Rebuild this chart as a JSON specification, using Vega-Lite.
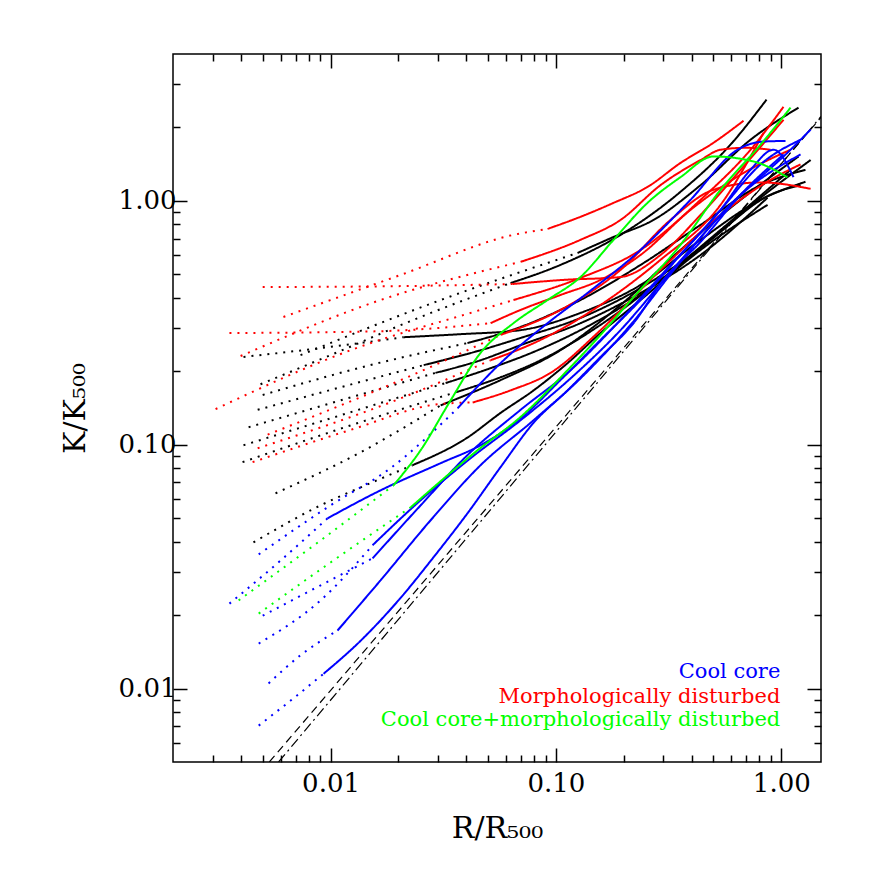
{
 "$schema": "https://vega.github.io/schema/vega-lite/v6.json",
 "width": 648, "height": 708,
 "autosize": {"type": "none"},
 "padding": {"left": 173, "top": 54, "right": 51, "bottom": 110},
 "background": "white",
 "config": {
  "view": {"stroke": "black", "strokeWidth": 1.5},
  "axis": {"domain": false, "grid": false, "tickColor": "black", "tickWidth": 1.5, "labelFont": "DejaVu Serif", "labelFontSize": 26, "labelColor": "black", "labelOverlap": false, "labelFlush": false, "titleFont": "DejaVu Serif", "titleFontSize": 30, "titleFontWeight": "normal", "titleColor": "black"}
 },
 "datasets": {
  "baselines": [
   {"name": "K=1.42R^1.08", "R": 0.00535, "K": 0.005}, {"name": "K=1.42R^1.08", "R": 1.5, "K": 2.20},
   {"name": "K=1.42R^1.1", "R": 0.00588, "K": 0.005}, {"name": "K=1.42R^1.1", "R": 1.5, "K": 2.218}
  ],
  "labels": [
   {"label": "Cool core", "class": "CC", "R": 0.99, "K": 0.0111},
   {"label": "Morphologically disturbed", "class": "MD", "R": 0.99, "K": 0.00876},
   {"label": "Cool core+morphologically disturbed", "class": "CCMD", "R": 0.99, "K": 0.00705}
  ],
  "profiles": [
   {"profile":"B1","class":"Other","region":"inner","R":0.00411,"K":0.229},
   {"profile":"B1","class":"Other","region":"inner","R":0.00903,"K":0.249},
   {"profile":"B1","class":"Other","region":"inner","R":0.0211,"K":0.276},
   {"profile":"B1","class":"Other","region":"outer","R":0.0211,"K":0.276},
   {"profile":"B1","class":"Other","region":"outer","R":0.0378,"K":0.284},
   {"profile":"B1","class":"Other","region":"outer","R":0.0697,"K":0.295},
   {"profile":"B1","class":"Other","region":"outer","R":0.1285,"K":0.347},
   {"profile":"B1","class":"Other","region":"outer","R":0.2374,"K":0.452},
   {"profile":"B1","class":"Other","region":"outer","R":0.4384,"K":0.692},
   {"profile":"B1","class":"Other","region":"outer","R":0.809,"K":1.01},
   {"profile":"B1","class":"Other","region":"outer","R":1.28,"K":1.197},
   {"profile":"B2","class":"Other","region":"inner","R":0.00489,"K":0.177},
   {"profile":"B2","class":"Other","region":"inner","R":0.01,"K":0.233},
   {"profile":"B2","class":"Other","region":"inner","R":0.0251,"K":0.334},
   {"profile":"B2","class":"Other","region":"inner","R":0.0629,"K":0.46},
   {"profile":"B2","class":"Other","region":"outer","R":0.0629,"K":0.46},
   {"profile":"B2","class":"Other","region":"outer","R":0.1047,"K":0.546},
   {"profile":"B2","class":"Other","region":"outer","R":0.1935,"K":0.725},
   {"profile":"B2","class":"Other","region":"outer","R":0.357,"K":1.089},
   {"profile":"B2","class":"Other","region":"outer","R":0.595,"K":1.70},
   {"profile":"B2","class":"Other","region":"outer","R":0.86,"K":2.60},
   {"profile":"B3","class":"Other","region":"inner","R":0.00475,"K":0.139},
   {"profile":"B3","class":"Other","region":"inner","R":0.01107,"K":0.172},
   {"profile":"B3","class":"Other","region":"inner","R":0.0259,"K":0.212},
   {"profile":"B3","class":"Other","region":"outer","R":0.0259,"K":0.212},
   {"profile":"B3","class":"Other","region":"outer","R":0.0463,"K":0.244},
   {"profile":"B3","class":"Other","region":"outer","R":0.0697,"K":0.274},
   {"profile":"B3","class":"Other","region":"outer","R":0.1285,"K":0.331},
   {"profile":"B3","class":"Other","region":"outer","R":0.2374,"K":0.439},
   {"profile":"B3","class":"Other","region":"outer","R":0.4384,"K":0.641},
   {"profile":"B3","class":"Other","region":"outer","R":0.809,"K":1.03},
   {"profile":"B3","class":"Other","region":"outer","R":1.349,"K":1.47},
   {"profile":"B4","class":"Other","region":"inner","R":0.00433,"K":0.118},
   {"profile":"B4","class":"Other","region":"inner","R":0.01107,"K":0.152},
   {"profile":"B4","class":"Other","region":"inner","R":0.0292,"K":0.197},
   {"profile":"B4","class":"Other","region":"outer","R":0.0292,"K":0.197},
   {"profile":"B4","class":"Other","region":"outer","R":0.0463,"K":0.222},
   {"profile":"B4","class":"Other","region":"outer","R":0.0697,"K":0.256},
   {"profile":"B4","class":"Other","region":"outer","R":0.1285,"K":0.315},
   {"profile":"B4","class":"Other","region":"outer","R":0.2374,"K":0.419},
   {"profile":"B4","class":"Other","region":"outer","R":0.4384,"K":0.6},
   {"profile":"B4","class":"Other","region":"outer","R":0.869,"K":1.03},
   {"profile":"B5","class":"Other","region":"inner","R":0.00411,"K":0.0995},
   {"profile":"B5","class":"Other","region":"inner","R":0.01107,"K":0.132},
   {"profile":"B5","class":"Other","region":"inner","R":0.0324,"K":0.179},
   {"profile":"B5","class":"Other","region":"outer","R":0.0324,"K":0.179},
   {"profile":"B5","class":"Other","region":"outer","R":0.0513,"K":0.206},
   {"profile":"B5","class":"Other","region":"outer","R":0.0796,"K":0.24},
   {"profile":"B5","class":"Other","region":"outer","R":0.1423,"K":0.31},
   {"profile":"B5","class":"Other","region":"outer","R":0.263,"K":0.439},
   {"profile":"B5","class":"Other","region":"outer","R":0.4853,"K":0.692},
   {"profile":"B5","class":"Other","region":"outer","R":0.896,"K":1.06},
   {"profile":"B5","class":"Other","region":"outer","R":1.217,"K":1.16},
   {"profile":"B6","class":"Other","region":"inner","R":0.00407,"K":0.0848},
   {"profile":"B6","class":"Other","region":"inner","R":0.01227,"K":0.12},
   {"profile":"B6","class":"Other","region":"inner","R":0.0359,"K":0.164},
   {"profile":"B6","class":"Other","region":"outer","R":0.0359,"K":0.164},
   {"profile":"B6","class":"Other","region":"outer","R":0.0568,"K":0.189},
   {"profile":"B6","class":"Other","region":"outer","R":0.0855,"K":0.222},
   {"profile":"B6","class":"Other","region":"outer","R":0.1577,"K":0.31},
   {"profile":"B6","class":"Other","region":"outer","R":0.2912,"K":0.474},
   {"profile":"B6","class":"Other","region":"outer","R":0.5377,"K":0.76},
   {"profile":"B6","class":"Other","region":"outer","R":1.099,"K":1.34},
   {"profile":"B7","class":"Other","region":"inner","R":0.00455,"K":0.0398},
   {"profile":"B7","class":"Other","region":"inner","R":0.00903,"K":0.0564},
   {"profile":"B7","class":"Other","region":"inner","R":0.015,"K":0.0695},
   {"profile":"B7","class":"Other","region":"inner","R":0.0231,"K":0.0824},
   {"profile":"B7","class":"Other","region":"outer","R":0.0231,"K":0.0824},
   {"profile":"B7","class":"Other","region":"outer","R":0.0405,"K":0.107},
   {"profile":"B7","class":"Other","region":"outer","R":0.0568,"K":0.135},
   {"profile":"B7","class":"Other","region":"outer","R":0.0796,"K":0.167},
   {"profile":"B7","class":"Other","region":"outer","R":0.1126,"K":0.216},
   {"profile":"B7","class":"Other","region":"outer","R":0.1577,"K":0.287},
   {"profile":"B7","class":"Other","region":"outer","R":0.2374,"K":0.392},
   {"profile":"B7","class":"Other","region":"outer","R":0.4384,"K":0.629},
   {"profile":"B7","class":"Other","region":"outer","R":0.869,"K":0.963},
   {"profile":"B8","class":"Other","region":"inner","R":0.0057,"K":0.0632},
   {"profile":"B8","class":"Other","region":"inner","R":0.01359,"K":0.0931},
   {"profile":"B8","class":"Other","region":"inner","R":0.0308,"K":0.145},
   {"profile":"B8","class":"Other","region":"outer","R":0.0308,"K":0.145},
   {"profile":"B8","class":"Other","region":"outer","R":0.0568,"K":0.184},
   {"profile":"B8","class":"Other","region":"outer","R":0.1047,"K":0.244},
   {"profile":"B8","class":"Other","region":"outer","R":0.1935,"K":0.374},
   {"profile":"B8","class":"Other","region":"outer","R":0.357,"K":0.629},
   {"profile":"B8","class":"Other","region":"outer","R":0.66,"K":1.01},
   {"profile":"B8","class":"Other","region":"outer","R":1.192,"K":1.52},
   {"profile":"B9","class":"Other","region":"inner","R":0.005,"K":0.16},
   {"profile":"B9","class":"Other","region":"inner","R":0.015,"K":0.212},
   {"profile":"B9","class":"Other","region":"inner","R":0.0405,"K":0.261},
   {"profile":"B9","class":"Other","region":"outer","R":0.0405,"K":0.261},
   {"profile":"B9","class":"Other","region":"outer","R":0.0697,"K":0.304},
   {"profile":"B9","class":"Other","region":"outer","R":0.1285,"K":0.392},
   {"profile":"B9","class":"Other","region":"outer","R":0.2374,"K":0.546},
   {"profile":"B9","class":"Other","region":"outer","R":0.4384,"K":0.797},
   {"profile":"B9","class":"Other","region":"outer","R":0.809,"K":1.16},
   {"profile":"B9","class":"Other","region":"outer","R":1.28,"K":1.34},
   {"profile":"B10","class":"Other","region":"inner","R":0.00736,"K":0.233},
   {"profile":"B10","class":"Other","region":"inner","R":0.0308,"K":0.392},
   {"profile":"B10","class":"Other","region":"inner","R":0.1247,"K":0.611},
   {"profile":"B10","class":"Other","region":"outer","R":0.1247,"K":0.611},
   {"profile":"B10","class":"Other","region":"outer","R":0.1802,"K":0.711},
   {"profile":"B10","class":"Other","region":"outer","R":0.271,"K":0.835},
   {"profile":"B10","class":"Other","region":"outer","R":0.4384,"K":1.16},
   {"profile":"B10","class":"Other","region":"outer","R":0.73,"K":1.78},
   {"profile":"B10","class":"Other","region":"outer","R":1.192,"K":2.41},

   {"profile":"R1","class":"MD","region":"inner","R":0.00618,"K":0.334},
   {"profile":"R1","class":"MD","region":"inner","R":0.0205,"K":0.497},
   {"profile":"R1","class":"MD","region":"inner","R":0.0648,"K":0.725},
   {"profile":"R1","class":"MD","region":"inner","R":0.0918,"K":0.767},
   {"profile":"R1","class":"MD","region":"outer","R":0.0918,"K":0.767},
   {"profile":"R1","class":"MD","region":"outer","R":0.1285,"K":0.86},
   {"profile":"R1","class":"MD","region":"outer","R":0.1802,"K":0.981},
   {"profile":"R1","class":"MD","region":"outer","R":0.2549,"K":1.14},
   {"profile":"R1","class":"MD","region":"outer","R":0.357,"K":1.43},
   {"profile":"R1","class":"MD","region":"outer","R":0.5,"K":1.73},
   {"profile":"R1","class":"MD","region":"outer","R":0.68,"K":2.13},
   {"profile":"R2","class":"MD","region":"inner","R":0.005,"K":0.443},
   {"profile":"R2","class":"MD","region":"inner","R":0.0205,"K":0.447},
   {"profile":"R2","class":"MD","region":"inner","R":0.0642,"K":0.456},
   {"profile":"R2","class":"MD","region":"outer","R":0.0642,"K":0.456},
   {"profile":"R2","class":"MD","region":"outer","R":0.108,"K":0.474},
   {"profile":"R2","class":"MD","region":"outer","R":0.1935,"K":0.487},
   {"profile":"R2","class":"MD","region":"outer","R":0.2912,"K":0.6},
   {"profile":"R2","class":"MD","region":"outer","R":0.4384,"K":0.876},
   {"profile":"R2","class":"MD","region":"outer","R":0.66,"K":1.34},
   {"profile":"R2","class":"MD","region":"outer","R":1.023,"K":2.15},
   {"profile":"R3","class":"MD","region":"inner","R":0.00356,"K":0.287},
   {"profile":"R3","class":"MD","region":"inner","R":0.01667,"K":0.292},
   {"profile":"R3","class":"MD","region":"inner","R":0.0513,"K":0.315},
   {"profile":"R3","class":"MD","region":"outer","R":0.0513,"K":0.315},
   {"profile":"R3","class":"MD","region":"outer","R":0.0697,"K":0.357},
   {"profile":"R3","class":"MD","region":"outer","R":0.1047,"K":0.411},
   {"profile":"R3","class":"MD","region":"outer","R":0.1577,"K":0.474},
   {"profile":"R3","class":"MD","region":"outer","R":0.2374,"K":0.6},
   {"profile":"R3","class":"MD","region":"outer","R":0.3956,"K":0.918},
   {"profile":"R3","class":"MD","region":"outer","R":0.66,"K":1.28},
   {"profile":"R3","class":"MD","region":"outer","R":1.099,"K":1.62},
   {"profile":"R4","class":"MD","region":"inner","R":0.00399,"K":0.231},
   {"profile":"R4","class":"MD","region":"inner","R":0.01667,"K":0.392},
   {"profile":"R4","class":"MD","region":"inner","R":0.0697,"K":0.562},
   {"profile":"R4","class":"MD","region":"outer","R":0.0697,"K":0.562},
   {"profile":"R4","class":"MD","region":"outer","R":0.1285,"K":0.692},
   {"profile":"R4","class":"MD","region":"outer","R":0.1935,"K":0.835},
   {"profile":"R4","class":"MD","region":"outer","R":0.2912,"K":1.16},
   {"profile":"R4","class":"MD","region":"outer","R":0.4384,"K":1.47},
   {"profile":"R4","class":"MD","region":"outer","R":0.5377,"K":1.62},
   {"profile":"R4","class":"MD","region":"outer","R":0.694,"K":1.65},
   {"profile":"R4","class":"MD","region":"outer","R":0.896,"K":1.62},
   {"profile":"R5","class":"MD","region":"inner","R":0.00309,"K":0.14},
   {"profile":"R5","class":"MD","region":"inner","R":0.01227,"K":0.244},
   {"profile":"R5","class":"MD","region":"inner","R":0.0463,"K":0.357},
   {"profile":"R5","class":"MD","region":"inner","R":0.0648,"K":0.392},
   {"profile":"R5","class":"MD","region":"outer","R":0.0648,"K":0.392},
   {"profile":"R5","class":"MD","region":"outer","R":0.1285,"K":0.483},
   {"profile":"R5","class":"MD","region":"outer","R":0.2374,"K":0.629},
   {"profile":"R5","class":"MD","region":"outer","R":0.4384,"K":1.01},
   {"profile":"R5","class":"MD","region":"outer","R":0.73,"K":1.62},
   {"profile":"R5","class":"MD","region":"outer","R":1.023,"K":2.43},
   {"profile":"R6","class":"MD","region":"inner","R":0.00451,"K":0.0848},
   {"profile":"R6","class":"MD","region":"inner","R":0.01227,"K":0.115},
   {"profile":"R6","class":"MD","region":"inner","R":0.0308,"K":0.147},
   {"profile":"R6","class":"MD","region":"inner","R":0.0427,"K":0.149},
   {"profile":"R6","class":"MD","region":"outer","R":0.0427,"K":0.149},
   {"profile":"R6","class":"MD","region":"outer","R":0.0629,"K":0.167},
   {"profile":"R6","class":"MD","region":"outer","R":0.0946,"K":0.197},
   {"profile":"R6","class":"MD","region":"outer","R":0.1577,"K":0.295},
   {"profile":"R6","class":"MD","region":"outer","R":0.2912,"K":0.521},
   {"profile":"R6","class":"MD","region":"outer","R":0.5377,"K":0.876},
   {"profile":"R6","class":"MD","region":"outer","R":0.896,"K":1.22},
   {"profile":"R6","class":"MD","region":"outer","R":1.217,"K":1.41},
   {"profile":"R7","class":"MD","region":"inner","R":0.00475,"K":0.0967},
   {"profile":"R7","class":"MD","region":"inner","R":0.0205,"K":0.155},
   {"profile":"R7","class":"MD","region":"inner","R":0.0513,"K":0.222},
   {"profile":"R7","class":"MD","region":"outer","R":0.0513,"K":0.222},
   {"profile":"R7","class":"MD","region":"outer","R":0.0855,"K":0.269},
   {"profile":"R7","class":"MD","region":"outer","R":0.1577,"K":0.374},
   {"profile":"R7","class":"MD","region":"outer","R":0.2912,"K":0.573},
   {"profile":"R7","class":"MD","region":"outer","R":0.5377,"K":0.963},
   {"profile":"R7","class":"MD","region":"outer","R":0.834,"K":1.9},
   {"profile":"R8","class":"MD","region":"inner","R":0.00526,"K":0.11},
   {"profile":"R8","class":"MD","region":"inner","R":0.0205,"K":0.184},
   {"profile":"R8","class":"MD","region":"inner","R":0.0568,"K":0.282},
   {"profile":"R8","class":"MD","region":"outer","R":0.0568,"K":0.282},
   {"profile":"R8","class":"MD","region":"outer","R":0.1047,"K":0.357},
   {"profile":"R8","class":"MD","region":"outer","R":0.1935,"K":0.521},
   {"profile":"R8","class":"MD","region":"outer","R":0.3224,"K":0.835},
   {"profile":"R8","class":"MD","region":"outer","R":0.5,"K":1.11},
   {"profile":"R8","class":"MD","region":"outer","R":0.809,"K":1.19},
   {"profile":"R8","class":"MD","region":"outer","R":1.349,"K":1.12},

   {"profile":"C1","class":"CC","region":"inner","R":0.00356,"K":0.0223},
   {"profile":"C1","class":"CC","region":"inner","R":0.006,"K":0.0335},
   {"profile":"C1","class":"CC","region":"inner","R":0.0097,"K":0.0499},
   {"profile":"C1","class":"CC","region":"outer","R":0.0097,"K":0.0499},
   {"profile":"C1","class":"CC","region":"outer","R":0.01667,"K":0.065},
   {"profile":"C1","class":"CC","region":"outer","R":0.0308,"K":0.084},
   {"profile":"C1","class":"CC","region":"outer","R":0.0463,"K":0.0995},
   {"profile":"C1","class":"CC","region":"outer","R":0.0697,"K":0.128},
   {"profile":"C1","class":"CC","region":"outer","R":0.1047,"K":0.184},
   {"profile":"C1","class":"CC","region":"outer","R":0.1577,"K":0.269},
   {"profile":"C1","class":"CC","region":"outer","R":0.2374,"K":0.392},
   {"profile":"C1","class":"CC","region":"outer","R":0.357,"K":0.6},
   {"profile":"C1","class":"CC","region":"outer","R":0.5377,"K":0.918},
   {"profile":"C1","class":"CC","region":"outer","R":0.809,"K":1.41},
   {"profile":"C1","class":"CC","region":"outer","R":1.217,"K":1.78},
   {"profile":"C2","class":"CC","region":"inner","R":0.0048,"K":0.0355},
   {"profile":"C2","class":"CC","region":"inner","R":0.01,"K":0.0564},
   {"profile":"C2","class":"CC","region":"inner","R":0.01845,"K":0.0801},
   {"profile":"C2","class":"CC","region":"inner","R":0.0366,"K":0.141},
   {"profile":"C2","class":"CC","region":"outer","R":0.0366,"K":0.141},
   {"profile":"C2","class":"CC","region":"outer","R":0.0568,"K":0.216},
   {"profile":"C2","class":"CC","region":"outer","R":0.0918,"K":0.315},
   {"profile":"C2","class":"CC","region":"outer","R":0.1381,"K":0.419},
   {"profile":"C2","class":"CC","region":"outer","R":0.2374,"K":0.629},
   {"profile":"C2","class":"CC","region":"outer","R":0.3956,"K":1.01},
   {"profile":"C2","class":"CC","region":"outer","R":0.639,"K":1.62},
   {"profile":"C2","class":"CC","region":"outer","R":0.834,"K":1.75},
   {"profile":"C2","class":"CC","region":"outer","R":1.044,"K":1.76},
   {"profile":"C3","class":"CC","region":"inner","R":0.005,"K":0.0199},
   {"profile":"C3","class":"CC","region":"inner","R":0.00903,"K":0.0265},
   {"profile":"C3","class":"CC","region":"inner","R":0.01536,"K":0.0342},
   {"profile":"C3","class":"CC","region":"outer","R":0.01536,"K":0.0342},
   {"profile":"C3","class":"CC","region":"outer","R":0.0251,"K":0.0564},
   {"profile":"C3","class":"CC","region":"outer","R":0.0405,"K":0.0906},
   {"profile":"C3","class":"CC","region":"outer","R":0.0697,"K":0.139},
   {"profile":"C3","class":"CC","region":"outer","R":0.1161,"K":0.202},
   {"profile":"C3","class":"CC","region":"outer","R":0.1935,"K":0.325},
   {"profile":"C3","class":"CC","region":"outer","R":0.3224,"K":0.546},
   {"profile":"C3","class":"CC","region":"outer","R":0.5377,"K":0.918},
   {"profile":"C3","class":"CC","region":"outer","R":0.73,"K":1.34},
   {"profile":"C3","class":"CC","region":"outer","R":0.9235,"K":1.62},
   {"profile":"C3","class":"CC","region":"outer","R":1.133,"K":1.25},
   {"profile":"C4","class":"CC","region":"inner","R":0.0048,"K":0.0153},
   {"profile":"C4","class":"CC","region":"inner","R":0.00903,"K":0.023},
   {"profile":"C4","class":"CC","region":"inner","R":0.01536,"K":0.0387},
   {"profile":"C4","class":"CC","region":"outer","R":0.01536,"K":0.0387},
   {"profile":"C4","class":"CC","region":"outer","R":0.0251,"K":0.0592},
   {"profile":"C4","class":"CC","region":"outer","R":0.0418,"K":0.088},
   {"profile":"C4","class":"CC","region":"outer","R":0.0697,"K":0.126},
   {"profile":"C4","class":"CC","region":"outer","R":0.1161,"K":0.187},
   {"profile":"C4","class":"CC","region":"outer","R":0.1935,"K":0.295},
   {"profile":"C4","class":"CC","region":"outer","R":0.3224,"K":0.511},
   {"profile":"C4","class":"CC","region":"outer","R":0.5953,"K":0.963},
   {"profile":"C4","class":"CC","region":"outer","R":1.099,"K":1.62},
   {"profile":"C4","class":"CC","region":"outer","R":1.349,"K":1.96},
   {"profile":"C5","class":"CC","region":"inner","R":0.00531,"K":0.0105},
   {"profile":"C5","class":"CC","region":"inner","R":0.00736,"K":0.0137},
   {"profile":"C5","class":"CC","region":"inner","R":0.01074,"K":0.0173},
   {"profile":"C5","class":"CC","region":"outer","R":0.01074,"K":0.0173},
   {"profile":"C5","class":"CC","region":"outer","R":0.01667,"K":0.0278},
   {"profile":"C5","class":"CC","region":"outer","R":0.0278,"K":0.049},
   {"profile":"C5","class":"CC","region":"outer","R":0.0463,"K":0.0824},
   {"profile":"C5","class":"CC","region":"outer","R":0.0796,"K":0.126},
   {"profile":"C5","class":"CC","region":"outer","R":0.1285,"K":0.187},
   {"profile":"C5","class":"CC","region":"outer","R":0.2143,"K":0.31},
   {"profile":"C5","class":"CC","region":"outer","R":0.357,"K":0.562},
   {"profile":"C5","class":"CC","region":"outer","R":0.66,"K":1.06},
   {"profile":"C5","class":"CC","region":"outer","R":1.217,"K":1.55},
   {"profile":"C6","class":"CC","region":"inner","R":0.0048,"K":0.00705},
   {"profile":"C6","class":"CC","region":"inner","R":0.00665,"K":0.00893},
   {"profile":"C6","class":"CC","region":"inner","R":0.00931,"K":0.0115},
   {"profile":"C6","class":"CC","region":"outer","R":0.00931,"K":0.0115},
   {"profile":"C6","class":"CC","region":"outer","R":0.01359,"K":0.0157},
   {"profile":"C6","class":"CC","region":"outer","R":0.0205,"K":0.0236},
   {"profile":"C6","class":"CC","region":"outer","R":0.0286,"K":0.0345},
   {"profile":"C6","class":"CC","region":"outer","R":0.0405,"K":0.0523},
   {"profile":"C6","class":"CC","region":"outer","R":0.0568,"K":0.0809},
   {"profile":"C6","class":"CC","region":"outer","R":0.0796,"K":0.123},
   {"profile":"C6","class":"CC","region":"outer","R":0.1126,"K":0.167},
   {"profile":"C6","class":"CC","region":"outer","R":0.1577,"K":0.229},
   {"profile":"C6","class":"CC","region":"outer","R":0.221,"K":0.315},
   {"profile":"C6","class":"CC","region":"outer","R":0.3,"K":0.474},
   {"profile":"C6","class":"CC","region":"outer","R":0.4384,"K":0.679},
   {"profile":"C6","class":"CC","region":"outer","R":0.66,"K":1.06},
   {"profile":"C6","class":"CC","region":"outer","R":1.023,"K":1.55},

   {"profile":"G1","class":"CCMD","region":"inner","R":0.00391,"K":0.023},
   {"profile":"G1","class":"CCMD","region":"inner","R":0.00903,"K":0.0405},
   {"profile":"G1","class":"CCMD","region":"inner","R":0.01905,"K":0.0682},
   {"profile":"G1","class":"CCMD","region":"outer","R":0.01905,"K":0.0682},
   {"profile":"G1","class":"CCMD","region":"outer","R":0.0251,"K":0.0949},
   {"profile":"G1","class":"CCMD","region":"outer","R":0.0341,"K":0.152},
   {"profile":"G1","class":"CCMD","region":"outer","R":0.0463,"K":0.238},
   {"profile":"G1","class":"CCMD","region":"outer","R":0.0648,"K":0.315},
   {"profile":"G1","class":"CCMD","region":"outer","R":0.0918,"K":0.392},
   {"profile":"G1","class":"CCMD","region":"outer","R":0.1285,"K":0.487},
   {"profile":"G1","class":"CCMD","region":"outer","R":0.1802,"K":0.692},
   {"profile":"G1","class":"CCMD","region":"outer","R":0.2549,"K":0.981},
   {"profile":"G1","class":"CCMD","region":"outer","R":0.357,"K":1.25},
   {"profile":"G1","class":"CCMD","region":"outer","R":0.5,"K":1.52},
   {"profile":"G1","class":"CCMD","region":"outer","R":0.753,"K":1.45},
   {"profile":"G1","class":"CCMD","region":"outer","R":1.065,"K":1.25},
   {"profile":"G2","class":"CCMD","region":"inner","R":0.0048,"K":0.0203},
   {"profile":"G2","class":"CCMD","region":"inner","R":0.01,"K":0.0329},
   {"profile":"G2","class":"CCMD","region":"inner","R":0.0227,"K":0.0554},
   {"profile":"G2","class":"CCMD","region":"outer","R":0.0227,"K":0.0554},
   {"profile":"G2","class":"CCMD","region":"outer","R":0.0449,"K":0.0949},
   {"profile":"G2","class":"CCMD","region":"outer","R":0.0697,"K":0.13},
   {"profile":"G2","class":"CCMD","region":"outer","R":0.1126,"K":0.202},
   {"profile":"G2","class":"CCMD","region":"outer","R":0.1577,"K":0.282},
   {"profile":"G2","class":"CCMD","region":"outer","R":0.221,"K":0.403},
   {"profile":"G2","class":"CCMD","region":"outer","R":0.357,"K":0.66},
   {"profile":"G2","class":"CCMD","region":"outer","R":0.5377,"K":1.11},
   {"profile":"G2","class":"CCMD","region":"outer","R":0.809,"K":1.7},
   {"profile":"G2","class":"CCMD","region":"outer","R":1.099,"K":2.41}
  ]
 },
 "layer": [
  {
   "data": {"name": "baselines"},
   "mark": {"type": "line", "color": "black", "strokeWidth": 1.2, "clip": true},
   "encoding": {
    "x": {"field": "R", "type": "quantitative", "scale": {"type": "log", "domain": [0.002, 1.5]}, "axis": null},
    "y": {"field": "K", "type": "quantitative", "scale": {"type": "log", "domain": [0.005, 4]}, "axis": null},
    "strokeDash": {"field": "name", "type": "nominal", "scale": {"domain": ["K=1.42R^1.08", "K=1.42R^1.1"], "range": [[8, 5], [10, 4, 2, 4]]}, "legend": null}
   }
  },
  {
   "data": {"name": "profiles"},
   "mark": {"type": "line", "strokeWidth": 2, "clip": true, "interpolate": "monotone"},
   "encoding": {
    "x": {"field": "R", "type": "quantitative", "scale": {"type": "log", "domain": [0.002, 1.5]},
     "axis": {"orient": "bottom", "values": [0.003,0.004,0.005,0.006,0.007,0.008,0.009,0.01,0.02,0.03,0.04,0.05,0.06,0.07,0.08,0.09,0.1,0.2,0.3,0.4,0.5,0.6,0.7,0.8,0.9,1],
      "labelExpr": "datum.value == 1 ? '1.00' : datum.value == 0.1 ? '0.10' : datum.value == 0.01 ? '0.01' : ''",
      "tickSize": {"condition": {"test": "datum.value == 0.01 || datum.value == 0.1 || datum.value == 1", "value": -14}, "value": -7},
      "labelPadding": 22, "title": "R/R₅₀₀", "titlePadding": 10}},
    "y": {"field": "K", "type": "quantitative", "scale": {"type": "log", "domain": [0.005, 4]},
     "axis": {"orient": "left", "values": [0.006,0.007,0.008,0.009,0.01,0.02,0.03,0.04,0.05,0.06,0.07,0.08,0.09,0.1,0.2,0.3,0.4,0.5,0.6,0.7,0.8,0.9,1,2,3],
      "labelExpr": "datum.value == 1 ? '1.00' : datum.value == 0.1 ? '0.10' : datum.value == 0.01 ? '0.01' : ''",
      "tickSize": {"condition": {"test": "datum.value == 0.01 || datum.value == 0.1 || datum.value == 1", "value": -14}, "value": -7},
      "labelPadding": 11, "title": "K/K₅₀₀", "titlePadding": 28}},
    "color": {"field": "class", "type": "nominal", "scale": {"domain": ["Other", "MD", "CC", "CCMD"], "range": ["#000000", "#ff0000", "#0000ff", "#00ff00"]}, "legend": null},
    "strokeDash": {"field": "region", "type": "nominal", "scale": {"domain": ["inner", "outer"], "range": [[2, 6], [1, 0]]}, "legend": null},
    "detail": [{"field": "profile"}, {"field": "region"}]
   }
  },
  {
   "data": {"name": "labels"},
   "mark": {"type": "text", "align": "right", "baseline": "alphabetic", "font": "DejaVu Serif", "fontSize": 21},
   "encoding": {
    "x": {"field": "R", "type": "quantitative", "scale": {"type": "log", "domain": [0.002, 1.5]},
     "axis": {"orient": "top", "values": [0.003,0.004,0.005,0.006,0.007,0.008,0.009,0.01,0.02,0.03,0.04,0.05,0.06,0.07,0.08,0.09,0.1,0.2,0.3,0.4,0.5,0.6,0.7,0.8,0.9,1], "labels": false, "title": null,
      "tickSize": {"condition": {"test": "datum.value == 0.01 || datum.value == 0.1 || datum.value == 1", "value": -14}, "value": -7}}},
    "y": {"field": "K", "type": "quantitative", "scale": {"type": "log", "domain": [0.005, 4]},
     "axis": {"orient": "right", "values": [0.006,0.007,0.008,0.009,0.01,0.02,0.03,0.04,0.05,0.06,0.07,0.08,0.09,0.1,0.2,0.3,0.4,0.5,0.6,0.7,0.8,0.9,1,2,3], "labels": false, "title": null,
      "tickSize": {"condition": {"test": "datum.value == 0.01 || datum.value == 0.1 || datum.value == 1", "value": -14}, "value": -7}}},
    "text": {"field": "label"},
    "color": {"field": "class", "type": "nominal", "scale": {"domain": ["Other", "MD", "CC", "CCMD"], "range": ["#000000", "#ff0000", "#0000ff", "#00ff00"]}, "legend": null}
   }
  }
 ],
 "resolve": {"scale": {"strokeDash": "independent"}, "axis": {"x": "independent", "y": "independent"}}
}
